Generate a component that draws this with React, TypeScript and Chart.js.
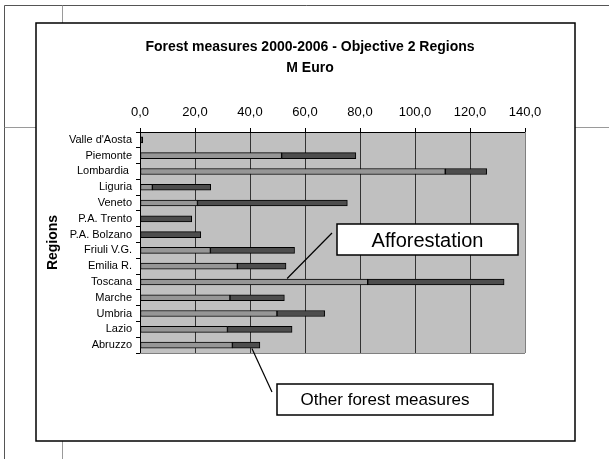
import React, { useEffect, useRef } from 'react';
import { Chart, registerables } from 'chart.js';

Chart.register(...registerables);

const FONT = 'Arial, "Liberation Sans", sans-serif';

const regions = [
  "Valle d'Aosta",
  'Piemonte',
  'Lombardia ',
  'Liguria',
  'Veneto',
  'P.A. Trento',
  'P.A. Bolzano',
  'Friuli V.G.',
  'Emilia R.',
  'Toscana',
  'Marche',
  'Umbria',
  'Lazio',
  'Abruzzo',
];
const afforestation = [0, 51.5, 111.0, 4.5, 20.9, 0, 0, 25.6, 35.4, 82.8, 32.7, 49.8, 31.8, 33.6];
const otherMeasures = [1.0, 27.0, 15.1, 21.2, 54.5, 18.8, 22.1, 30.6, 17.7, 49.6, 19.8, 17.4, 23.5, 10.0];
const xMin = 0;
const xMax = 140;
const xStep = 20;

const titleLines = ['Forest measures 2000-2006 - Objective 2 Regions', 'M Euro'];
const yTitle = 'Regions';
const calloutAfforestation = { text: 'Afforestation', region: 'Toscana', value: 53.5 };
const calloutOther = { text: 'Other forest measures', region: 'Abruzzo', value: 40.7 };

const fmt = (v: number) => v.toFixed(1).replace('.', ',');

const framePlugin = {
  id: 'frame',
  beforeDraw(chart: any) {
    const ctx = chart.ctx as CanvasRenderingContext2D;
    ctx.save();
    ctx.fillStyle = '#ffffff';
    ctx.fillRect(0, 0, chart.width, chart.height);
    // page lines
    ctx.lineWidth = 1;
    ctx.strokeStyle = '#555555';
    ctx.beginPath();
    ctx.moveTo(4.5, 5.5);
    ctx.lineTo(609, 5.5);
    ctx.moveTo(4.5, 5.5);
    ctx.lineTo(4.5, 459);
    ctx.stroke();
    ctx.strokeStyle = '#9a9a9a';
    ctx.beginPath();
    ctx.moveTo(62.5, 5.5);
    ctx.lineTo(62.5, 23);
    ctx.moveTo(62.5, 441);
    ctx.lineTo(62.5, 459);
    ctx.moveTo(4.5, 127.5);
    ctx.lineTo(36, 127.5);
    ctx.moveTo(575, 127.5);
    ctx.lineTo(609, 127.5);
    ctx.stroke();
    // chart box
    ctx.fillStyle = '#ffffff';
    ctx.fillRect(36, 23, 539, 418);
    ctx.strokeStyle = '#000000';
    ctx.lineWidth = 1.5;
    ctx.strokeRect(36, 23, 539, 418);
    // title
    ctx.fillStyle = '#000000';
    ctx.font = `bold 14px ${FONT}`;
    ctx.textAlign = 'center';
    ctx.textBaseline = 'alphabetic';
    ctx.fillText(titleLines[0], 310, 51);
    ctx.fillText(titleLines[1], 310, 72);
    // plot background
    const a = chart.chartArea;
    ctx.fillStyle = '#c0c0c0';
    ctx.fillRect(a.left, a.top, a.right - a.left, a.bottom - a.top);
    ctx.restore();
  },
  afterDatasetsDraw(chart: any) {
    const ctx = chart.ctx as CanvasRenderingContext2D;
    const a = chart.chartArea;
    ctx.save();
    ctx.strokeStyle = '#808080';
    ctx.lineWidth = 1;
    ctx.beginPath();
    ctx.moveTo(a.left, Math.round(a.bottom) + 0.5);
    ctx.lineTo(a.right, Math.round(a.bottom) + 0.5);
    ctx.moveTo(Math.round(a.right) + 0.5, a.top);
    ctx.lineTo(Math.round(a.right) + 0.5, a.bottom);
    ctx.stroke();
    ctx.restore();
  },
  afterDraw(chart: any) {
    const ctx = chart.ctx as CanvasRenderingContext2D;
    const xs = chart.scales.x;
    const ys = chart.scales.y;
    ctx.save();
    // Afforestation callout
    const i1 = regions.indexOf(calloutAfforestation.region);
    const ax = xs.getPixelForValue(calloutAfforestation.value);
    const ay = ys.getPixelForValue(i1) - 3.5;
    ctx.strokeStyle = '#000';
    ctx.lineWidth = 1.2;
    ctx.beginPath();
    ctx.moveTo(332, 233);
    ctx.lineTo(ax, ay);
    ctx.stroke();
    ctx.fillStyle = '#fff';
    ctx.fillRect(337, 224, 181, 31);
    ctx.lineWidth = 1.5;
    ctx.strokeRect(337, 224, 181, 31);
    ctx.fillStyle = '#000';
    ctx.font = `20px ${FONT}`;
    ctx.textAlign = 'center';
    ctx.textBaseline = 'alphabetic';
    ctx.fillText(calloutAfforestation.text, 427.5, 247);
    // Other callout
    const i2 = regions.indexOf(calloutOther.region);
    const bx = xs.getPixelForValue(calloutOther.value);
    const by = ys.getPixelForValue(i2) + 3.5;
    ctx.lineWidth = 1.2;
    ctx.beginPath();
    ctx.moveTo(bx, by);
    ctx.lineTo(272, 392);
    ctx.stroke();
    ctx.fillStyle = '#fff';
    ctx.fillRect(277, 384, 216, 31);
    ctx.lineWidth = 1.5;
    ctx.strokeRect(277, 384, 216, 31);
    ctx.fillStyle = '#000';
    ctx.font = `17px ${FONT}`;
    ctx.fillText(calloutOther.text, 385, 405);
    ctx.restore();
  },
};

export default function App() {
  const ref = useRef<HTMLCanvasElement>(null);
  useEffect(() => {
    document.body.style.margin = '0';
    Chart.defaults.font.family = FONT;
    Chart.defaults.color = '#000';
    const chart = new Chart(ref.current!, {
      type: 'bar',
      data: {
        labels: regions,
        datasets: [
          {
            label: 'Afforestation',
            data: afforestation,
            backgroundColor: '#969696',
            borderColor: '#000',
            borderWidth: 1,
            borderSkipped: false,
            barThickness: 6,
          },
          {
            label: 'Other forest measures',
            data: otherMeasures,
            backgroundColor: '#4d4d4d',
            borderColor: '#000',
            borderWidth: 1,
            borderSkipped: false,
            barThickness: 6,
          },
        ],
      },
      options: {
        indexAxis: 'y',
        responsive: false,
        animation: false,
        devicePixelRatio: 1,
        layout: { padding: { left: 36, right: 84, top: 77, bottom: 106 } },
        plugins: {
          legend: { display: false },
          title: { display: false },
          tooltip: { enabled: false },
        },
        scales: {
          x: {
            type: 'linear',
            position: 'top',
            stacked: true,
            min: xMin,
            max: xMax,
            ticks: {
              stepSize: xStep,
              padding: 8,
              font: { size: 13 },
              color: '#000',
              callback: (v: any) => fmt(Number(v)),
            },
            grid: {
              color: (c: any) => (c.tick && c.tick.value === xMax ? '#808080' : '#333333'),
              tickColor: '#000',
              tickLength: 4,
              lineWidth: 1,
            },
            border: { color: '#000', width: 1 },
            afterFit: (s: any) => {
              s.height = 55;
            },
          },
          y: {
            type: 'category',
            stacked: true,
            ticks: { font: { size: 11 }, color: '#000', padding: 4, autoSkip: false },
            grid: { drawOnChartArea: false, offset: true, tickLength: 4, color: '#000' },
            border: { color: '#000', width: 1 },
            title: {
              display: true,
              text: yTitle,
              font: { size: 14, weight: 'bold' },
              color: '#000',
              padding: { top: 9, bottom: 0 },
            },
            afterFit: (s: any) => {
              s.width = 104;
            },
          },
        },
      },
      plugins: [framePlugin],
    } as any);
    return () => chart.destroy();
  }, []);
  return (
    <div style={{ width: 609, height: 459 }}>
      <canvas ref={ref} width={609} height={459} style={{ display: 'block' }} />
    </div>
  );
}
